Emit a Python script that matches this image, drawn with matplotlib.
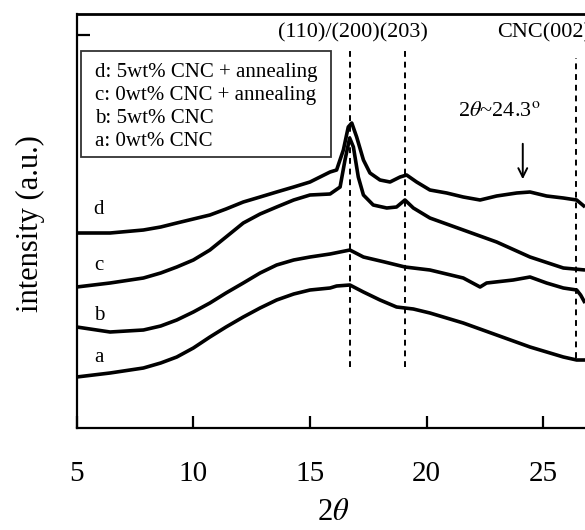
import matplotlib
matplotlib.use("Agg")
import matplotlib.pyplot as plt
from matplotlib.patches import Rectangle

plt.rcParams['font.family'] = ['Liberation Serif', 'DejaVu Serif']
plt.rcParams['mathtext.fontset'] = 'stix'

# ---- data (2theta, intensity in arbitrary units) ----
x_a = [5, 6.43, 7.86, 8.6, 9.29, 10.0, 10.71, 11.4, 12.14, 12.86, 13.57, 14.3, 15.0, 15.86,
       16.14, 16.71, 17.29, 18.0, 18.71, 19.43, 20.14, 21.57, 23.0, 24.43, 25.86, 26.43, 26.79]
y_a = [51, 55, 60, 65, 71, 80, 91, 101, 111, 120, 128, 134, 138, 140,
       142, 143, 136, 128, 121, 119, 115, 105, 93, 81, 71, 68, 68]

x_b = [5, 6.43, 7.86, 8.6, 9.29, 10.0, 10.71, 11.4, 12.14, 12.86, 13.57, 14.3, 15.0, 15.86,
       16.71, 17.29, 18.2, 19.07, 20.14, 21.57, 22.29, 22.57, 23.71, 24.43, 25.14, 25.86,
       26.43, 26.6, 26.79]
y_b = [101, 96, 98, 102, 108, 116, 125, 135, 145, 155, 163, 168, 171, 174,
       178, 171, 166, 161, 158, 150, 141, 145, 148, 151, 145, 140,
       138, 133, 125]

x_c = [5, 6.43, 7.86, 8.6, 9.29, 10.0, 10.71, 11.4, 12.14, 12.86, 13.57, 14.3, 15.0, 15.86,
       16.29, 16.5, 16.7, 16.86, 17.07, 17.29, 17.71, 18.29, 18.71, 19.07, 19.43, 20.14,
       21.57, 23.0, 24.43, 25.86, 26.79]
y_c = [141, 145, 150, 155, 161, 168, 178, 191, 205, 214, 221, 228, 233, 234,
       241, 268, 290, 281, 251, 233, 223, 220, 221, 228, 220, 210,
       198, 186, 171, 160, 158]

x_d = [5, 6.43, 7.86, 8.6, 9.29, 10.0, 10.71, 11.4, 12.14, 12.86, 13.57, 14.3, 15.0, 15.86,
       16.14, 16.43, 16.64, 16.79, 17.0, 17.29, 17.57, 18.0, 18.43, 18.86, 19.14, 19.57,
       20.14, 20.86, 21.57, 22.29, 23.0, 23.86, 24.43, 25.14, 25.86, 26.43, 26.79]
y_d = [195, 195, 198, 201, 205, 209, 213, 219, 226, 231, 236, 241, 246, 256,
       258, 278, 301, 305, 291, 268, 255, 248, 246, 251, 253, 246,
       238, 235, 231, 228, 232, 235, 236, 232, 230, 228, 221]

curve_labels = ['a', 'b', 'c', 'd']
curve_label_pos = [(5.95, 70), (5.95, 113), (5.95, 163), (5.95, 218)]

peak_positions = [16.71, 19.07, 26.4]
peak_names = ['(110)/(200)(203)', 'CNC(002)']

legend_lines = ['d: 5wt% CNC + annealing', 'c: 0wt% CNC + annealing',
                'b: 5wt% CNC', 'a: 0wt% CNC']

arrow_x = 24.12
xticks = [5, 10, 15, 20, 25]

# ---- figure ----
W, H = 585, 530
fig = plt.figure(figsize=(W / 100, H / 100), dpi=100)
left, right_px = 76.7, 585
bot_px, top_px = 428, 14
ax = fig.add_axes([left / W, (H - bot_px) / H, (right_px - left) / W, (bot_px - top_px) / H])
ax.set_xlim(5, 5 + (right_px - left) / 23.33)
ax.set_ylim(0, bot_px - top_px)

for xs, ys in [(x_a, y_a), (x_b, y_b), (x_c, y_c), (x_d, y_d)]:
    ax.plot(xs, ys, color='black', lw=2.6, solid_joinstyle='round', solid_capstyle='butt')

for lab, (lx, ly) in zip(curve_labels, curve_label_pos):
    ax.text(lx, ly, lab, fontsize=15, ha='center', va='center')

# dashed reference lines
dash = (0, (3, 2.5))
ax.plot([peak_positions[0]] * 2, [61, 378], ls=dash, color='black', lw=1.4)
ax.plot([peak_positions[1]] * 2, [61, 378], ls=dash, color='black', lw=1.4)
ax.plot([peak_positions[2]] * 2, [70, 370], ls=dash, color='black', lw=1.4)

ax.text(16.84, 395, peak_names[0], fontsize=16, ha='center', va='center')
ax.text(23.0, 395, peak_names[1], fontsize=16, ha='left', va='center')

ax.text(23.1, 316, r'2$\theta$~24.3$^{\rm o}$', fontsize=16, ha='center', va='center')
ax.annotate('', xy=(arrow_x, 246), xytext=(arrow_x, 287),
            arrowprops=dict(arrowstyle='->', color='black', lw=1.4, mutation_scale=16))

# legend box
bx0 = 5 + (81 - left) / 23.33
bx1 = 5 + (331 - left) / 23.33
ax.add_patch(Rectangle((bx0, bot_px - 157), bx1 - bx0, 106, fill=False,
                       edgecolor='#333333', lw=1.3, zorder=5))
for i, t in enumerate(legend_lines):
    ax.text(5 + (95 - left) / 23.33, bot_px - 72 - i * 23.3, t, fontsize=15,
            ha='left', va='center', zorder=6)

# axes styling
ax.spines['right'].set_visible(False)
for s in ['left', 'bottom']:
    ax.spines[s].set_linewidth(1.6)
ax.spines['top'].set_linewidth(2.0)
ax.set_xticks(xticks)
ax.set_xticklabels([str(t) for t in xticks])
ax.tick_params(axis='x', direction='in', length=9, width=1.6, labelsize=21, pad=24)
ax.set_yticks([bot_px - 35])
ax.set_yticklabels([])
ax.tick_params(axis='y', direction='in', length=9, width=1.6)

fig.text(333 / W, 1 - 512 / H, r'2$\theta$', fontsize=22, ha='center', va='center')
fig.text(30 / W, 1 - 224 / H, 'intensity (a.u.)', fontsize=22, rotation=90,
         ha='center', va='center')

fig.savefig('out.png', dpi=100)
